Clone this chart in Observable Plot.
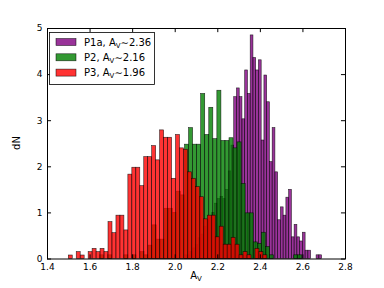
<!DOCTYPE html>
<html><head><meta charset="utf-8">
<script src="https://cdn.jsdelivr.net/npm/d3@7"></script>
<script src="https://cdn.jsdelivr.net/npm/@observablehq/plot@0.6"></script>
<style>
html,body{margin:0;padding:0;background:#fff;}
#chart{position:relative;width:384px;height:288px;}
svg text{font-family:"DejaVu Sans",sans-serif;}
</style></head><body><div id="chart"></div>
<script>
// Series names, label means and colours
const seriesNames = ["P1a", "P2", "P3"];
const seriesMeans = ["2.36", "2.16", "1.96"];
const seriesColors = ["purple", "green", "red"];

// Histogram bins (50 bins each): start of first bin, bin width, densities
const p1aStart = 2.045, p1aWidth = 0.0129;
const p1aHeights = [0.08,0.08,0.15,0.23,0.3,0.45,0.53,0.7,0.85,0.9,1.0,1.2,1.3,1.35,1.3,1.5,1.9,
  2.46,3.51,3.70,3.51,3.03,4.09,3.58,4.85,4.36,4.09,4.31,2.57,3.98,3.40,2.10,2.84,1.88,0.84,1.12,
  0.94,1.33,1.50,0.47,0.74,0.47,0.38,0.57,0.18,0.18,0,0,0.08,0.08];

const p2Start = 1.647, p2Width = 0.019;
const p2Heights = [0.08,0,0.08,0,0,0,0.08,0,0.08,0,0.15,0.08,0.29,0.73,0.42,0.42,1.09,1.09,1.0,1.46,
  1.38,2.48,2.84,2.48,2.48,3.58,2.69,3.28,2.6,3.65,2.56,2.56,2.62,2.4,2.53,1.63,0.99,0.99,0.36,0.33,
  0.57,0.26,0.08,0,0,0,0,0,0.08,0.08];

const p3Start = 1.5, p3Width = 0.01866;
const p3Heights = [0.076,0,0.15,0.076,0,0.15,0.22,0.15,0.22,0.15,0.80,0.56,0.94,0.94,0.62,1.83,1.98,
  1.98,1.58,2.21,2.21,2.45,2.14,2.79,2.63,2.63,1.74,2.69,2.40,2.37,1.88,1.74,1.56,1.34,0.86,0.94,0.94,
  0.47,0.70,0.31,0.31,0.46,0.31,0.08,0.15,0.08,0,0.22,0.15,0.08];

// Axis ticks
const xTicks = [1.4, 1.6, 1.8, 2.0, 2.2, 2.4, 2.6, 2.8];
const yTicks = [0, 1, 2, 3, 4, 5];

function bins(start, width, heights, s) {
  return heights.map((h, i) => ({x1: start + i * width, x2: start + (i + 1) * width, y: h, s}))
    .filter(d => d.y > 0);
}
const series = [
  bins(p1aStart, p1aWidth, p1aHeights, seriesNames[0]),
  bins(p2Start, p2Width, p2Heights, seriesNames[1]),
  bins(p3Start, p3Width, p3Heights, seriesNames[2])
];

const tickLenY = 0.09, tickLenX = 0.019;
const chart = Plot.plot({
  width: 384, height: 288,
  marginLeft: 47, marginRight: 39, marginTop: 28, marginBottom: 29.5,
  style: {fontFamily: "DejaVu Sans, sans-serif", fontSize: "9px", background: "white", color: "black"},
  x: {domain: [1.4, 2.8]},
  y: {domain: [0, 5]},
  marks: [
    ...series.map((data, k) => Plot.rectY(data, {
      x1: "x1", x2: "x2", y1: 0, y2: "y",
      fill: seriesColors[k], fillOpacity: 0.8,
      stroke: "black", strokeOpacity: 0.8, strokeWidth: 0.6
    })),
    Plot.frame({stroke: "black", strokeWidth: 1}),
    Plot.ruleX(xTicks, {x: d => d, y1: 0, y2: tickLenY, stroke: "black"}),
    Plot.ruleX(xTicks, {x: d => d, y1: 5, y2: 5 - tickLenY, stroke: "black"}),
    Plot.ruleY(yTicks, {y: d => d, x1: 1.4, x2: 1.4 + tickLenX, stroke: "black"}),
    Plot.ruleY(yTicks, {y: d => d, x1: 2.8, x2: 2.8 - tickLenX, stroke: "black"}),
    Plot.axisX(xTicks, {tickSize: 0, tickPadding: 5, tickFormat: d3.format(".1f"), label: null}),
    Plot.axisY(yTicks, {tickSize: 0, tickPadding: 5, tickFormat: d3.format("d"), label: null})
  ]
});
document.getElementById("chart").appendChild(chart);

const svg = d3.select(chart);
// axis labels
const xl = svg.append("text").attr("x", 196).attr("y", 279).attr("text-anchor", "middle")
  .attr("font-size", 10).attr("fill", "black");
xl.append("tspan").text("A");
xl.append("tspan").attr("font-size", 7).attr("dy", 2).text("V");

svg.append("text").attr("transform", "translate(20,143) rotate(-90)").attr("text-anchor", "middle")
  .attr("font-size", 10).attr("fill", "black").text("dN");

// legend
const lg = svg.append("g").attr("text-anchor", "start");
lg.append("rect").attr("x", 49.5).attr("y", 32.5).attr("width", 105).attr("height", 52)
  .attr("fill", "white").attr("stroke", "black").attr("stroke-width", 0.8);
seriesNames.forEach((name, k) => {
  const cy = 42 + k * 15.3;
  lg.append("rect").attr("x", 56).attr("y", cy - 3.5).attr("width", 20).attr("height", 7)
    .attr("fill", seriesColors[k]).attr("fill-opacity", 0.8)
    .attr("stroke", "black").attr("stroke-opacity", 0.8).attr("stroke-width", 0.6);
  const t = lg.append("text").attr("x", 84).attr("y", cy + 3.6).attr("font-size", 10)
    .attr("text-anchor", "start").attr("fill", "black");
  t.append("tspan").text(name + ", A");
  t.append("tspan").attr("font-size", 7).attr("dy", 2).text("V");
  t.append("tspan").attr("dy", -2).text("\u223C" + seriesMeans[k]);
});
</script>
</body></html>
